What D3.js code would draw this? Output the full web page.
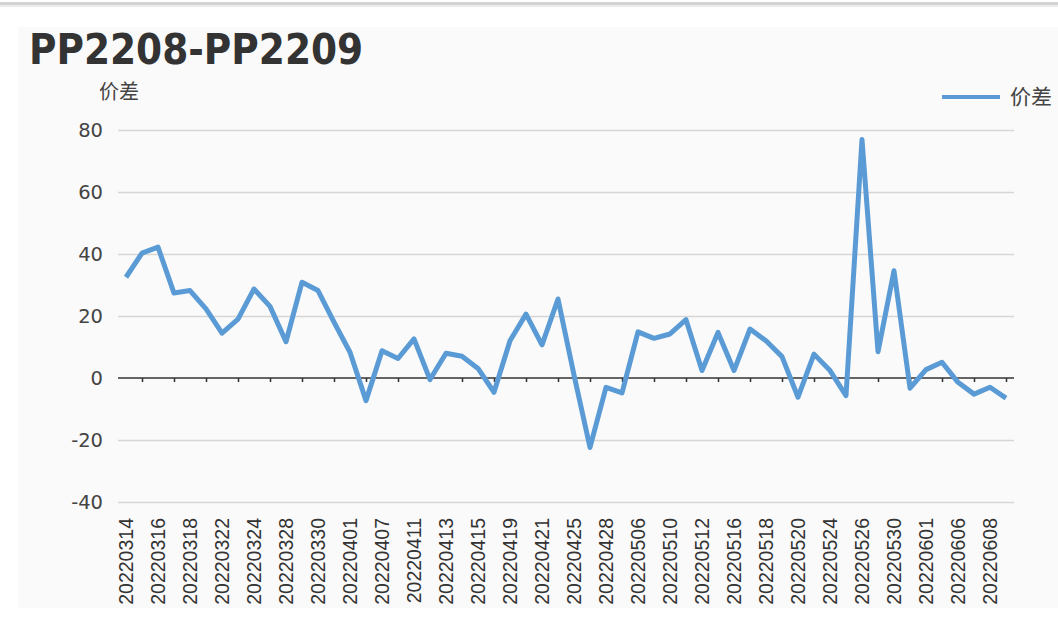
<!DOCTYPE html>
<html>
<head>
<meta charset="utf-8">
<script src="https://cdn.jsdelivr.net/npm/d3@7/dist/d3.min.js"></script>
<style>
  html, body { margin: 0; padding: 0; background: #ffffff; }
  svg { display: block; }
</style>
</head>
<body>
<svg id="chart" width="1058" height="625"></svg>
<script>
const title = "PP2208-PP2209";
const seriesName = "价差";
const yAxisName = "价差";

const dates = [
  "20220314","20220315","20220316","20220317","20220318","20220321","20220322","20220323",
  "20220324","20220325","20220328","20220329","20220330","20220331","20220401","20220406",
  "20220407","20220408","20220411","20220412","20220413","20220414","20220415","20220418",
  "20220419","20220420","20220421","20220422","20220425","20220427","20220428","20220505",
  "20220506","20220509","20220510","20220511","20220512","20220513","20220516","20220517",
  "20220518","20220519","20220520","20220523","20220524","20220525","20220526","20220527",
  "20220530","20220531","20220601","20220602","20220606","20220607","20220608","20220609"
];

const spread = [
  32.5, 40.3, 42.2, 27.4, 28.2, 22.3, 14.5, 19.0,
  28.7, 23.1, 11.7, 30.9, 28.2, 18.0, 8.3, -7.3,
  8.8, 6.3, 12.6, -0.5, 8.0, 7.0, 3.1, -4.6,
  12.0, 20.6, 10.7, 25.5, 1.0, -22.4, -3.0, -4.8,
  14.9, 12.8, 14.2, 18.8, 2.4, 14.7, 2.4, 15.8,
  12.0, 6.9, -6.2, 7.7, 2.4, -5.7, 76.9, 8.5,
  34.6, -3.3, 2.7, 5.1, -1.4, -5.2, -3.0, -6.5
];

const yTicks = [-40, -20, 0, 20, 40, 60, 80];

const svg = d3.select("#chart");

// page decorations
svg.append("rect").attr("x", 0).attr("y", 0).attr("width", 1058).attr("height", 625).attr("fill", "#ffffff");
svg.append("rect").attr("x", 0).attr("y", 2).attr("width", 1058).attr("height", 3).attr("fill", "#d4d4d4");
svg.append("rect").attr("x", 0).attr("y", 5).attr("width", 1058).attr("height", 2).attr("fill", "#ececec");
svg.append("rect").attr("x", 18).attr("y", 27).attr("width", 1040).attr("height", 581).attr("fill", "#fafafa");

// title
svg.append("text")
  .attr("transform", "translate(29,64) scale(1,1.13)")
  .attr("font-family", "'DejaVu Sans', Verdana, sans-serif")
  .attr("font-weight", "bold")
  .attr("font-size", 37.5)
  .attr("fill", "#333333")
  .text(title);

const margin = { left: 118, right: 1014, top: 130, bottom: 502 };

const x = d3.scalePoint().domain(dates).range([margin.left, margin.right]).padding(0.5);
const y = d3.scaleLinear().domain([-40, 80]).range([margin.bottom, margin.top]);

// gridlines
const grid = svg.append("g")
  .attr("transform", `translate(${margin.left},0)`)
  .call(d3.axisLeft(y).tickValues(yTicks.filter(v => v !== 0)).tickSize(-(margin.right - margin.left)).tickFormat(""));
grid.select(".domain").remove();
grid.selectAll(".tick line").attr("stroke", "#d6d6d6").attr("stroke-width", 1.5);

// y labels
const yAxis = svg.append("g")
  .attr("transform", `translate(${margin.left},0)`)
  .call(d3.axisLeft(y).tickValues(yTicks).tickSize(0).tickPadding(15).tickFormat(d => String(d)));
yAxis.select(".domain").remove();
yAxis.selectAll("text")
  .attr("font-family", "'DejaVu Sans', sans-serif")
  .attr("font-size", 19.5)
  .attr("fill", "#444444");

// x axis at zero
const ticksIdx = dates.filter((d, i) => i % 2 === 1);
const xAxisTicks = svg.append("g")
  .attr("transform", `translate(0,${y(0)})`)
  .call(d3.axisBottom(x).tickValues(ticksIdx).tickSize(4).tickFormat(""));
xAxisTicks.select(".domain").attr("d", `M${margin.left},0H${margin.right}`).attr("stroke", "#333333").attr("stroke-width", 1.5);
xAxisTicks.selectAll(".tick line").attr("stroke", "#333333").attr("stroke-width", 1.5);

// x labels at bottom
const xLabels = svg.append("g")
  .attr("transform", `translate(0,${margin.bottom})`)
  .call(d3.axisBottom(x).tickValues(dates.filter((d, i) => i % 2 === 0)).tickSize(0));
xLabels.select(".domain").remove();
xLabels.selectAll("text")
  .attr("font-family", "'Liberation Sans', Arial, sans-serif")
  .attr("font-size", 19.5)
  .attr("fill", "#333333")
  .attr("transform", "rotate(-90)")
  .attr("text-anchor", "end")
  .attr("x", -16)
  .attr("y", 0)
  .attr("dy", "0.35em");

// line
const line = d3.line()
  .x((d, i) => x(dates[i]))
  .y(d => y(d));
svg.append("path")
  .datum(spread)
  .attr("fill", "none")
  .attr("stroke", "#5b9bd5")
  .attr("stroke-width", 5)
  .attr("stroke-linejoin", "round")
  .attr("d", line);

// y-axis name
svg.append("text")
  .attr("x", 119).attr("y", 99)
  .attr("text-anchor", "middle")
  .attr("font-family", "'Noto Sans CJK SC', sans-serif")
  .attr("font-size", 20)
  .attr("fill", "#444444")
  .text(yAxisName);

// legend
const legend = svg.append("g");
legend.append("line")
  .attr("x1", 942).attr("x2", 1000)
  .attr("y1", 97).attr("y2", 97)
  .attr("stroke", "#5b9bd5").attr("stroke-width", 4);
legend.append("text")
  .attr("x", 1010).attr("y", 97)
  .attr("dy", "0.35em")
  .attr("font-family", "'Noto Sans CJK SC', sans-serif")
  .attr("font-size", 21)
  .attr("fill", "#444444")
  .text(seriesName);
</script>
</body>
</html>
